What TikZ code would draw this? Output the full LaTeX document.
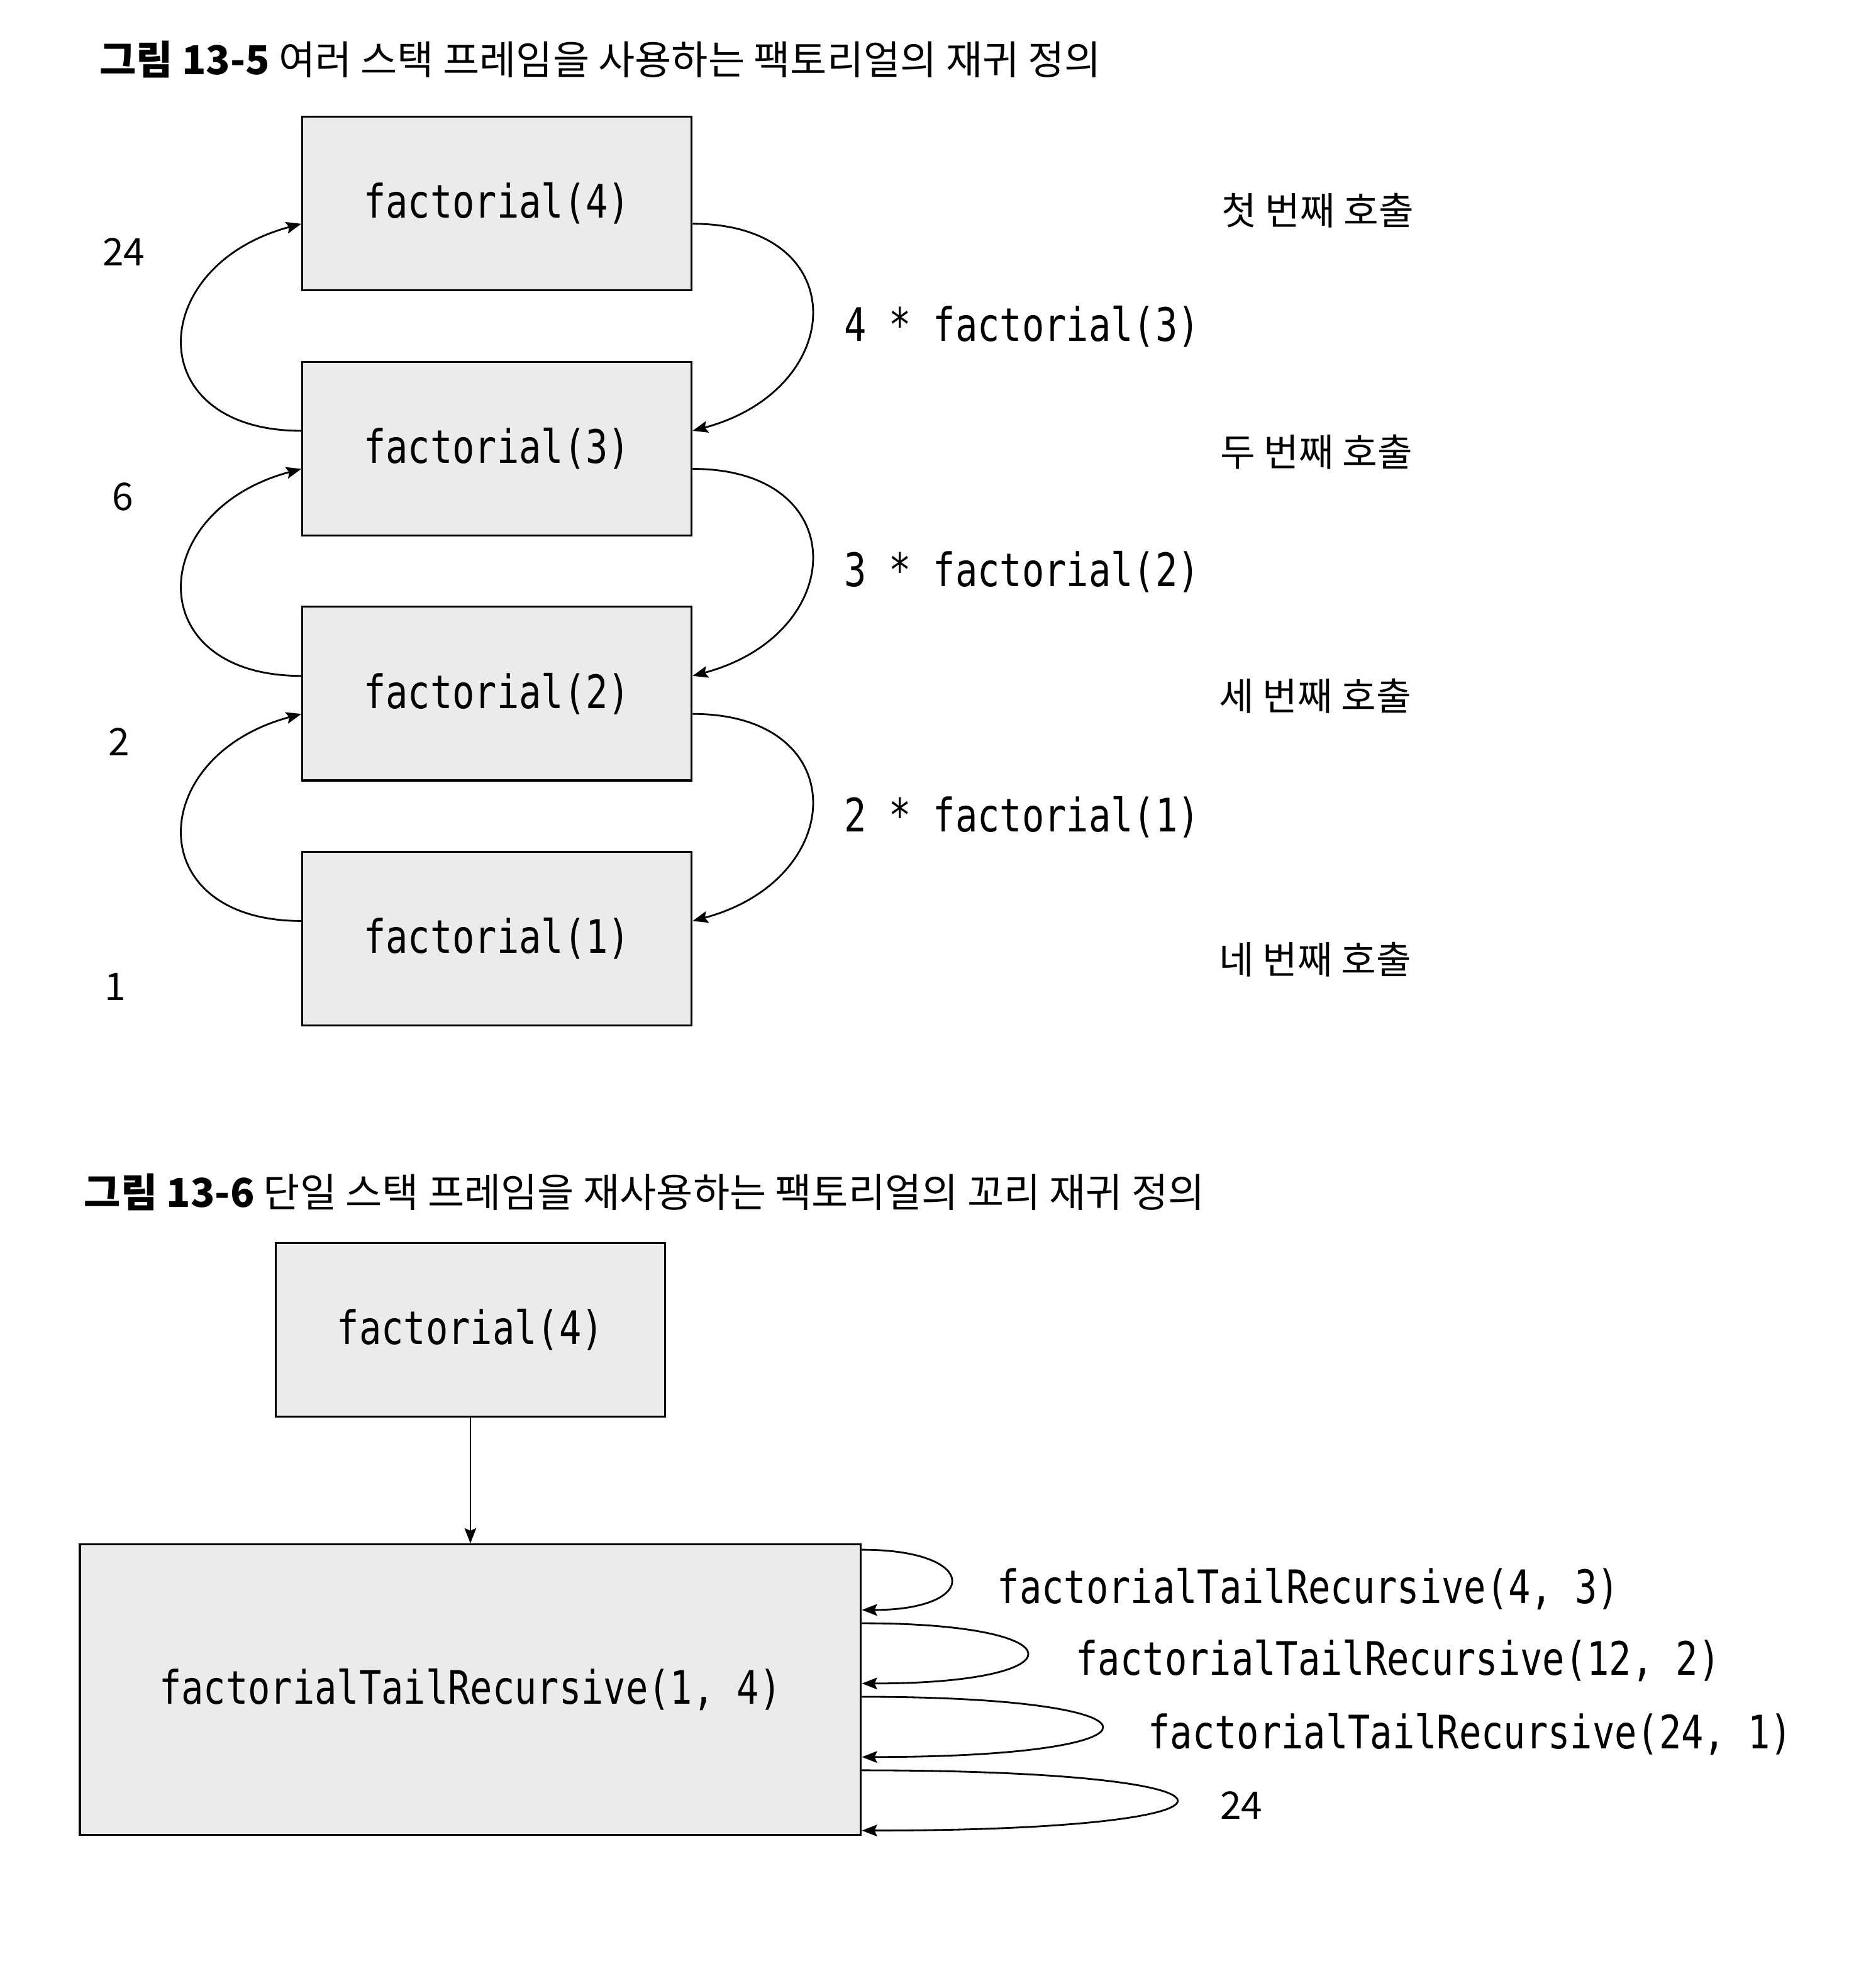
\documentclass[tikz,border=0pt]{standalone}
\usepackage{fontspec}
\usepackage{tikz}
\usetikzlibrary{positioning}
\usetikzlibrary{arrows.meta}
\setmainfont{Noto Sans CJK KR}
\newfontfamily\codefont[FakeStretch=0.8]{DejaVu Sans Mono}

\begin{document}
\begin{tikzpicture}[x=0.5pt,y=-0.5pt]
          \tikzset{FrameStyle/.style = {draw, line width=0.8pt, fill=black!8,
                   minimum width=153.5pt, minimum height=68.5pt, inner sep=0pt,
                   font=\codefont\fontsize{18.2}{20}\selectfont}}
          \tikzset{CallStyle/.style = {inner sep=0pt, font=\codefont\fontsize{18.2}{20}\selectfont}}
          \tikzset{NoteStyle/.style = {inner sep=0pt, font=\fontsize{15}{18}\selectfont}}
          \tikzset{TitleStyle/.style = {inner sep=0pt, anchor=west, font=\fontsize{15.7}{18}\selectfont}}
          \tikzset{EdgeStyle/.style = {line width=0.7pt, -{Stealth[length=6pt,width=4.6pt,inset=1pt]}}}

          \useasboundingbox (0,0) rectangle (1458,1568);

          \node[TitleStyle] (title1) at (78,47) {\textbf{그림 13-5} 여러 스택 프레임을 사용하는 팩토리얼의 재귀 정의};

          \node[FrameStyle] (f4) at (392,160.5) {factorial(4)};
          \node[FrameStyle, below=27.35pt of f4] (f3) {factorial(3)};
          \node[FrameStyle, below=27.35pt of f3] (f2) {factorial(2)};
          \node[FrameStyle, below=27.35pt of f2] (f1) {factorial(1)};

          \draw[EdgeStyle] ([yshift=-8pt]f4.east) to[out=0, in=15, looseness=2]
                node[CallStyle, midway, right=12.5pt, yshift=-6pt] (m3) {4 * factorial(3)} ([yshift=7pt]f3.east);
          \draw[EdgeStyle] ([yshift=-8pt]f3.east) to[out=0, in=15, looseness=2]
                node[CallStyle, midway, right=12.5pt, yshift=-6pt] (m2) {3 * factorial(2)} ([yshift=7pt]f2.east);
          \draw[EdgeStyle] ([yshift=-8pt]f2.east) to[out=0, in=15, looseness=2]
                node[CallStyle, midway, right=12.5pt, yshift=-6pt] (m1) {2 * factorial(1)} ([yshift=7pt]f1.east);

          \draw[EdgeStyle] ([yshift=7pt]f3.west) to[out=180, in=195, looseness=2] ([yshift=-8pt]f4.west);
          \draw[EdgeStyle] ([yshift=7pt]f2.west) to[out=180, in=195, looseness=2] ([yshift=-8pt]f3.west);
          \draw[EdgeStyle] ([yshift=7pt]f1.west) to[out=180, in=195, looseness=2] ([yshift=-8pt]f2.west);

          \node[NoteStyle] (r4) at ([xshift=-70pt,yshift=-19pt]f4.west) {24};
          \node[NoteStyle] (r3) at ([xshift=-70.5pt,yshift=-19pt]f3.west) {6};
          \node[NoteStyle] (r2) at ([xshift=-72pt,yshift=-19pt]f2.west) {2};
          \node[NoteStyle] (r1) at ([xshift=-73.5pt,yshift=-19pt]f1.west) {1};

          \node[NoteStyle, right=208.5pt of f4, yshift=-2.75pt] (c4) {첫 번째 호출};
          \node[NoteStyle, right=208pt of f3, yshift=-1.4pt] (c3) {두 번째 호출};
          \node[NoteStyle, right=207.5pt of f2, yshift=-1pt] (c2) {세 번째 호출};
          \node[NoteStyle, right=207.5pt of f1, yshift=-8.2pt] (c1) {네 번째 호출};

          \node[TitleStyle] (title2) at (66,940) {\textbf{그림 13-6} 단일 스택 프레임을 재사용하는 팩토리얼의 꼬리 재귀 정의};

          \node[FrameStyle] (g4) at (371,1049) {factorial(4)};
          \node[FrameStyle, minimum width=308pt, minimum height=114.5pt, below=49.5pt of g4] (tail)
                {factorialTailRecursive(1, 4)};

          \draw[EdgeStyle] (g4) -- (tail);

          \draw[EdgeStyle] ([yshift=-2.5pt]tail.north east) to[out=0, in=0, distance=46.7pt]
                node[CallStyle, midway, right=18pt, yshift=-3.5pt] (t3) {factorialTailRecursive(4, 3)}
                ([yshift=-26.25pt]tail.north east);
          \draw[EdgeStyle] ([yshift=-31.5pt]tail.north east) to[out=0, in=0, distance=86.7pt]
                node[CallStyle, midway, right=19pt, yshift=-3pt] (t2) {factorialTailRecursive(12, 2)}
                ([yshift=-55.25pt]tail.north east);
          \draw[EdgeStyle] ([yshift=-60.5pt]tail.north east) to[out=0, in=0, distance=126pt]
                node[CallStyle, midway, right=18pt, yshift=-3pt] (t1) {factorialTailRecursive(24, 1)}
                ([yshift=-84.25pt]tail.north east);
          \draw[EdgeStyle] ([yshift=-89.5pt]tail.north east) to[out=0, in=0, distance=165.3pt]
                node[NoteStyle, midway, right=17pt, yshift=-2pt] (t0) {24}
                ([yshift=-113.25pt]tail.north east);
        \end{tikzpicture}
\end{document}
